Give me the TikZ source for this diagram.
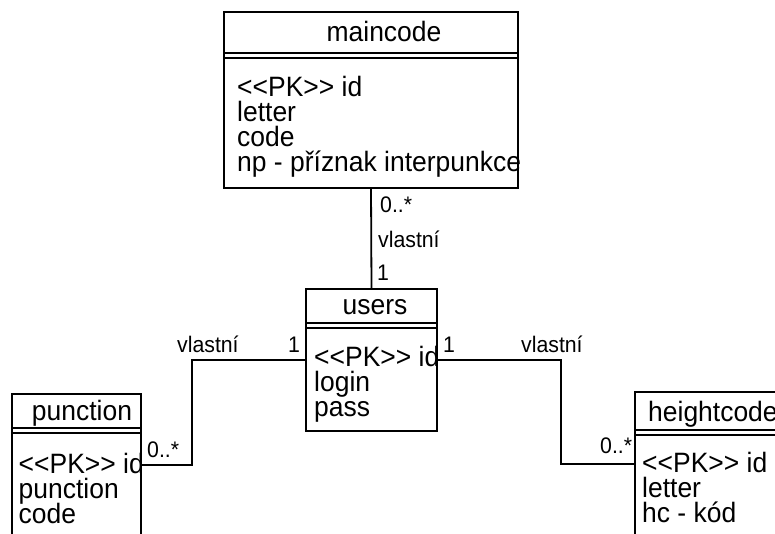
\documentclass[tikz,border=0pt]{standalone}
\usepackage{fontspec}
\setmainfont{Liberation Sans}[Ligatures=TeXOff]
\newfontfamily\umlfont{Liberation Sans}[Ligatures=TeXOff, FakeStretch=0.945]
\begin{document}
\begin{tikzpicture}[x=1pt,y=-1pt,
  box/.style={draw, line width=1.8pt, rectangle, fill=white, inner sep=0pt, outer sep=0pt},
  conn/.style={line width=1.8pt},
  hdr/.style={line width=1.8pt},
  ttl/.style={font=\umlfont\fontsize{28}{28}\selectfont, inner sep=0pt, anchor=base},
  att/.style={font=\umlfont\fontsize{28}{28}\selectfont, inner sep=0pt, anchor=base west},
  lbl/.style={font=\umlfont\fontsize{22.5}{22.5}\selectfont, inner sep=0pt, anchor=base west}]
\useasboundingbox (0,0) rectangle (775,534);
\clip (0,0) rectangle (775,534);
\fill[white] (0,0) rectangle (775,534);

% boxes
\node[box, minimum width=294pt, minimum height=176pt] (maincode) at (371,100) {};
\node[box, minimum width=131pt, minimum height=142pt] (users) at (371.5,360) {};
\node[box, minimum width=129pt, minimum height=142pt] (punction) at (76.5,465) {};
\node[box, minimum width=170pt, minimum height=144pt] (heightcode) at (720,464) {};

% header double lines
\foreach \b/\d in {maincode/41, users/34, punction/34, heightcode/38}{
  \draw[hdr] ([yshift=-\d pt]\b.north west) -- ([yshift=-\d pt]\b.north east);
  \draw[hdr] ([yshift=-\d pt-5pt]\b.north west) -- ([yshift=-\d pt-5pt]\b.north east);
}

% connectors
\coordinate (pb) at (192,465);
\coordinate (hb) at (561,464);
\draw[conn] (maincode.south) -- (users.north);
\draw[conn] (users.west) -| (pb) -- (punction.east);
\draw[conn] (users.east) -| (hb) -- (heightcode.west);

% titles
\node[ttl] (t1) at (384,42) {maincode};
\node[ttl] (t2) at (375,314) {users};
\node[ttl] (t3) at (82,420) {punction};
\node[ttl, anchor=base west] (t4) at (648,421) {heightcode};

% attributes
\node[att] (m1) at (237,97) {<<PK>> id};
\node[att] (m2) at (237,122) {letter};
\node[att] (m3) at (237,147) {code};
\node[att] (m4) at (237,172) {np - příznak interpunkce};

\node[att] (u1) at (314,366) {<<PK>> id};
\node[att] (u2) at (314,391) {login};
\node[att] (u3) at (314,416) {pass};

\node[att] (p1) at (18.5,473) {<<PK>> id};
\node[att] (p2) at (18.5,498) {punction};
\node[att] (p3) at (18.5,523) {code};

\node[att] (h1) at (642,472) {<<PK>> id};
\node[att] (h2) at (642,497) {letter};
\node[att] (h3) at (642,522) {hc - kód};

% connector labels
\node[lbl] (l1) at (380,213) {0..*};
\node[lbl] (l2) at (378,248) {vlastní};
\node[lbl] (l3) at (377,280) {1};

\node[lbl] (l4) at (177,352) {vlastní};
\node[lbl] (l5) at (288,352) {1};
\node[lbl] (l6) at (147,457) {0..*};

\node[lbl] (l7) at (443,352) {1};
\node[lbl] (l8) at (521,352) {vlastní};
\node[lbl] (l9) at (600,453) {0..*};
\end{tikzpicture}
\end{document}
